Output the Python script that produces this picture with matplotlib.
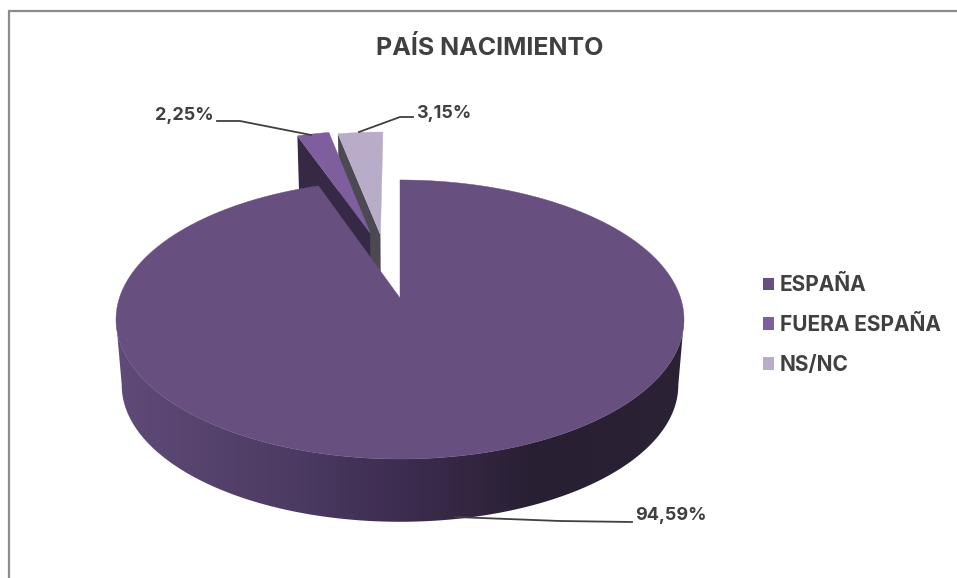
import numpy as np
import matplotlib
matplotlib.use('Agg')
import matplotlib.pyplot as plt
from matplotlib.patches import Patch, Polygon

plt.rcParams['font.family'] = 'Inter'

title = 'PAÍS NACIMIENTO'
labels = ['ESPAÑA', 'FUERA ESPAÑA', 'NS/NC']
values = [94.59, 2.25, 3.15]
value_labels = ['94,59%', '2,25%', '3,15%']
colors = ['#674F80', '#7F5E9E', '#B8ACC9']
wall_colors = ['#2A2035', '#352945', '#4C4952']
text_color = '#404040'

# pie geometry in pixels, with a perspective tilt
CX, CY = 400, 298
A, B, K = 280.6, 136.2, 0.154
DEPTH, SHRINK = 66, 0.98
offsets = [(0, 0), (-0.115, 0.515), (-0.075, 0.5)]


def project(X, Y, low=False):
    d = 1 + K * Y
    u, v = A * X / d, B * Y / d
    if low:
        return CX + u * SHRINK, CY + DEPTH - v * SHRINK
    return CX + u, CY - v


def arc(start, end, off):
    t = np.radians(np.linspace(start, end, max(int(end - start) * 2, 8)))
    return np.sin(t) + off[0], np.cos(t) + off[1]


fig = plt.figure(figsize=(9.57, 5.78), dpi=100)
ax = fig.add_axes([0, 0, 1, 1])
ax.axis('off')

# frame
ax.plot([9, 9, 957], [578, 10.5, 10.5], color='#8C8C8C', lw=1.6, solid_joinstyle='miter')

# wedge angles, clockwise from the top
total = sum(values)
ends = np.cumsum(values) / total * 360
starts = np.r_[0, ends[:-1]]

# small slices first, the big one covers them
for i in [2, 1, 0]:
    off = offsets[i]
    X, Y = arc(starts[i], ends[i], off)
    if i > 0:
        # cut face on the left side of the slice
        ex, ey = np.sin(np.radians(starts[i])) + off[0], np.cos(np.radians(starts[i])) + off[1]
        x0, y0 = project(off[0], off[1])
        x1, y1 = project(ex, ey)
        x2, y2 = project(ex, ey, low=True)
        x3, y3 = project(off[0], off[1], low=True)
        ax.add_patch(Polygon([(x0, y0), (x1, y1), (x2, y2), (x3, y3)], fc=wall_colors[i], ec='none'))
    else:
        # side wall, shaded along x
        front = Y < -0.15
        order = np.argsort(np.arctan2(Y[front], X[front]) % (2 * np.pi))
        Xf, Yf = X[front][order], Y[front][order]
        xs, ys = project(Xf, Yf)
        xb, yb = project(Xf, Yf, low=True)
        wall = Polygon(np.r_[np.c_[xs, ys], np.c_[xb, yb][::-1]], fc='none', ec='none')
        ax.add_patch(wall)
        shade_x = [115, 300, 400, 540, 690]
        stops = np.array([[0x60, 0x4B, 0x78], [0x4B, 0x3A, 0x62], [0x3D, 0x2D, 0x50],
                          [0x28, 0x1F, 0x32], [0x2B, 0x22, 0x36]]) / 255
        grid = np.arange(115, 691)
        grad = np.stack([np.interp(grid, shade_x, stops[:, c]) for c in range(3)], axis=-1)[None, :, :]
        im = ax.imshow(grad, extent=(115, 691, 530, 300), aspect='auto', interpolation='bilinear')
        im.set_clip_path(wall)
    fx, fy = project(np.r_[off[0], X], np.r_[off[1], Y])
    ax.add_patch(Polygon(np.c_[fx, fy], fc=colors[i], ec=colors[i], lw=0.3))

ax.set_xlim(0, 957)
ax.set_ylim(578, 0)

# title and leader lines
ax.text(489.5, 48, title, ha='center', va='center', fontsize=18, fontweight='bold', color=text_color)
ax.plot([455, 560, 632], [517, 521, 522], color=text_color, lw=1.3)
ax.plot([217, 240, 311], [121, 121, 135], color=text_color, lw=1.3)
ax.plot([359, 400, 413], [132, 117, 117], color=text_color, lw=1.3)
ax.text(707, 516, value_labels[0], ha='right', va='center', fontsize=13, fontweight='bold', color=text_color)
ax.text(214, 116, value_labels[1], ha='right', va='center', fontsize=13, fontweight='bold', color=text_color)
ax.text(416, 113, value_labels[2], ha='left', va='center', fontsize=13, fontweight='bold', color=text_color)

handles = [Patch(fc=c, ec='none', label=l) for c, l in zip(colors, labels)]
leg = ax.legend(handles=handles, loc='center left', bbox_to_anchor=(763 / 957, 1 - 325 / 578), frameon=False,
                prop={'size': 15, 'weight': 'bold'}, labelcolor=text_color, handlelength=0.55, handleheight=0.55,
                handletextpad=0.25, labelspacing=0.95, borderpad=0, borderaxespad=0)

fig.savefig('out.png', dpi=100)
